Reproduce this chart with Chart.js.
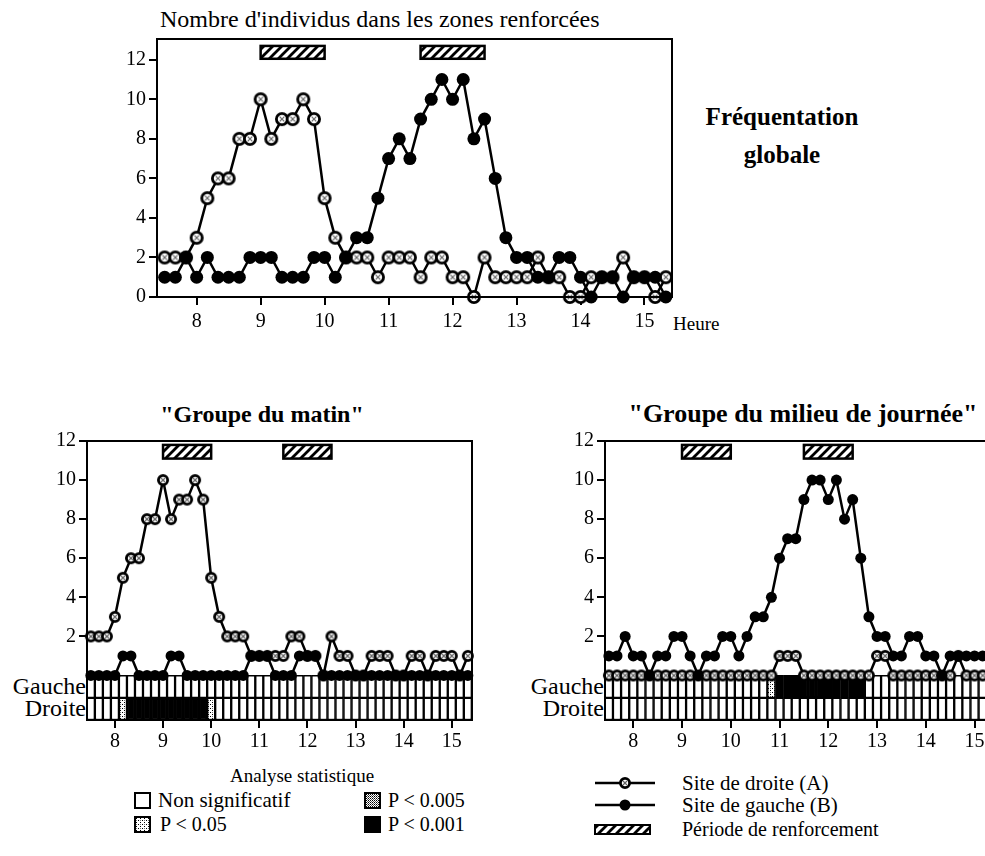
<!DOCTYPE html>
<html>
<head>
<meta charset="utf-8">
<script src="https://cdn.jsdelivr.net/npm/chart.js@4.4.1/dist/chart.umd.min.js"></script>
<style>
  html, body { margin: 0; padding: 0; width: 985px; height: 856px; overflow: hidden; background: #fff; }
  body { position: relative; font-family: 'Liberation Serif', 'Times New Roman', serif; color: #000; }
  canvas.chart, canvas.leg { position: absolute; }
  .txt { position: absolute; white-space: nowrap; font-size: 20px; line-height: 20px; }
  .bold { font-weight: bold; font-size: 25px; line-height: 25px; }
  .row { font-size: 24px; line-height: 22px; text-align: right; }
</style>
</head>
<body>
<div class="txt" style="left:160px; top:7px; font-size:24px; line-height:24px;">Nombre d'individus dans les zones renforcées</div>
<div class="txt" style="left:673px; top:314px; font-size:19px;">Heure</div>
<div class="txt bold" style="left:682px; width:200px; text-align:center; top:104px;">Fréquentation</div>
<div class="txt bold" style="left:682px; width:200px; text-align:center; top:142px;">globale</div>

<div class="txt bold" style="left:112px; width:300px; text-align:center; top:402px; font-size:24px;">"Groupe du matin"</div>
<div class="txt bold" style="left:603px; width:400px; text-align:center; top:401px; font-size:26px;">"Groupe du milieu de journée"</div>

<div class="txt row" style="right:899px; top:675px;">Gauche</div>
<div class="txt row" style="right:899px; top:697px;">Droite</div>
<div class="txt row" style="right:381px; top:675px;">Gauche</div>
<div class="txt row" style="right:381px; top:697px;">Droite</div>

<canvas id="globalChart" class="chart" width="600" height="310" style="left:100px; top:30px;"></canvas>
<canvas id="matinChart" class="chart" width="460" height="320" style="left:30px; top:432px;"></canvas>
<canvas id="midiChart" class="chart" width="465" height="320" style="left:548px; top:432px;"></canvas>

<div class="txt" style="left:230px; top:766px; font-size:19px;">Analyse statistique</div>
<canvas id="sqNs" class="leg" width="17" height="17" style="left:134px; top:792px;"></canvas>
<div class="txt" style="left:158px; top:790px; font-size:21px;">Non significatif</div>
<canvas id="sq05" class="leg" width="17" height="17" style="left:134px; top:816px;"></canvas>
<div class="txt" style="left:160px; top:814px;">P &lt; 0.05</div>
<canvas id="sq005" class="leg" width="17" height="17" style="left:364px; top:792px;"></canvas>
<div class="txt" style="left:388px; top:790px;">P &lt; 0.005</div>
<canvas id="sq001" class="leg" width="17" height="17" style="left:364px; top:816px;"></canvas>
<div class="txt" style="left:388px; top:814px;">P &lt; 0.001</div>

<canvas id="legSites" class="leg" width="80" height="72" style="left:590px; top:770px;"></canvas>
<div class="txt" style="left:682px; top:773px; font-size:21px;">Site de droite (A)</div>
<div class="txt" style="left:682px; top:795px; font-size:21px;">Site de gauche (B)</div>
<div class="txt" style="left:682px; top:819px;">Période de renforcement</div>

<script>
// Heures des relevés (toutes les 10 min)
const times = ['7:30', '7:40', '7:50', '8:00', '8:10', '8:20', '8:30', '8:40', '8:50',
    '9:00', '9:10', '9:20', '9:30', '9:40', '9:50', '10:00', '10:10', '10:20', '10:30', '10:40', '10:50',
    '11:00', '11:10', '11:20', '11:30', '11:40', '11:50', '12:00', '12:10', '12:20', '12:30', '12:40', '12:50',
    '13:00', '13:10', '13:20', '13:30', '13:40', '13:50', '14:00', '14:10', '14:20', '14:30', '14:40', '14:50',
    '15:00', '15:10', '15:20'];

const hourTicks = [8, 9, 10, 11, 12, 13, 14, 15];
const countTicks = [0, 2, 4, 6, 8, 10, 12];
const groupTicks = [2, 4, 6, 8, 10, 12];

// Périodes de renforcement (heures)
const renforcement = [[9, 10], [11.5, 12.5]];

// Fréquentation globale
const globalDroite = [2, 2, 2, 3, 5, 6, 6, 8, 8, 10, 8, 9, 9, 10, 9, 5, 3, 2, 2, 2,
    1, 2, 2, 2, 1, 2, 2, 1, 1, 0, 2, 1, 1, 1, 1, 2, 1, 1, 0, 0, 1, 1, 1, 2, 1, 1, 0, 1];
const globalGauche = [1, 1, 2, 1, 2, 1, 1, 1, 2, 2, 2, 1, 1, 1, 2, 2, 1, 2, 3, 3,
    5, 7, 8, 7, 9, 10, 11, 10, 11, 8, 9, 6, 3, 2, 2, 1, 1, 2, 2, 1, 0, 1, 1, 0, 1, 1, 1, 0];

// Groupe du matin
const matinDroite = [2, 2, 2, 3, 5, 6, 6, 8, 8, 10, 8, 9, 9, 10, 9, 5, 3, 2, 2, 2,
    1, 1, 1, 1, 1, 2, 2, 1, 1, 0, 2, 1, 1, 0, 0, 1, 1, 1, 0, 0, 1, 1, 0, 1, 1, 1, 0, 1];
const matinGauche = [0, 0, 0, 0, 1, 1, 0, 0, 0, 0, 1, 1, 0, 0, 0, 0, 0, 0, 0, 0,
    1, 1, 1, 0, 0, 0, 1, 1, 1, 0, 0, 0, 0, 0, 0, 0, 0, 0, 0, 0, 0, 0, 0, 0, 0, 0, 0, 0];

// Groupe du milieu de journée
const midiDroite = [0, 0, 0, 0, 0, 0, 0, 0, 0, 0, 0, 0, 0, 0, 0, 0, 0, 0, 0, 0,
    0, 1, 1, 1, 0, 0, 0, 0, 0, 0, 0, 0, 0, 1, 1, 0, 0, 0, 0, 0, 0, 0, 0, 1, 0, 0, 0, 0];
const midiGauche = [1, 1, 2, 1, 1, 0, 1, 1, 2, 2, 1, 0, 1, 1, 2, 2, 1, 2, 3, 3,
    4, 6, 7, 7, 9, 10, 10, 9, 10, 8, 9, 6, 3, 2, 2, 1, 1, 2, 2, 1, 1, 0, 1, 1, 1, 1, 1, 1];

// Analyse statistique : 0 = non significatif, 1 = P<0.05, 2 = P<0.005, 3 = P<0.001
const statMatinGauche = [0, 0, 0, 0, 0, 0, 0, 0, 0, 0, 0, 0, 0, 0, 0, 0, 0, 0, 0, 0,
    0, 0, 0, 0, 0, 0, 0, 0, 0, 0, 0, 0, 0, 0, 0, 0, 0, 0, 0, 0, 0, 0, 0, 0, 0, 0, 0, 0];
const statMatinDroite = [0, 0, 0, 0, 1, 3, 3, 3, 3, 3, 3, 3, 3, 3, 3, 1, 0, 0, 0, 0,
    0, 0, 0, 0, 0, 0, 0, 0, 0, 0, 0, 0, 0, 0, 0, 0, 0, 0, 0, 0, 0, 0, 0, 0, 0, 0, 0, 0];
const statMidiGauche = [0, 0, 0, 0, 0, 0, 0, 0, 0, 0, 0, 0, 0, 0, 0, 0, 0, 0, 0, 0,
    1, 3, 3, 3, 3, 3, 3, 3, 3, 3, 3, 3, 0, 0, 0, 0, 0, 0, 0, 0, 0, 0, 0, 0, 0, 0, 0, 0];
const statMidiDroite = [0, 0, 0, 0, 0, 0, 0, 0, 0, 0, 0, 0, 0, 0, 0, 0, 0, 0, 0, 0,
    0, 0, 0, 0, 0, 0, 0, 0, 0, 0, 0, 0, 0, 0, 0, 0, 0, 0, 0, 0, 0, 0, 0, 0, 0, 0, 0, 0];

const hours = times.map(t => {
    const [h, m] = t.split(':').map(Number);
    return h + m / 60;
});

Chart.defaults.font.family = "'Liberation Serif', 'Times New Roman', serif";
Chart.defaults.font.size = 20;
Chart.defaults.color = '#000';
Chart.defaults.animation = false;

// Motifs
function tile(size, draw) {
    const c = document.createElement('canvas');
    c.width = size; c.height = size;
    const g = c.getContext('2d');
    g.fillStyle = '#fff';
    g.fillRect(0, 0, size, size);
    draw(g);
    return c;
}
const hatchTile = tile(9, g => {
    g.strokeStyle = '#000';
    g.lineWidth = 2.8;
    g.beginPath();
    g.moveTo(-3, 12); g.lineTo(12, -3);
    g.moveTo(-3, 3); g.lineTo(3, -3);
    g.moveTo(6, 12); g.lineTo(12, 6);
    g.stroke();
});
const dot05Tile = tile(4, g => {
    g.fillStyle = '#000';
    g.fillRect(0, 0, 1, 1);
    g.fillRect(2, 2, 1, 1);
    g.fillStyle = '#777';
    g.fillRect(2, 0, 1, 1);
});
const dot005Tile = tile(2, g => {
    g.fillStyle = '#000';
    g.fillRect(0, 0, 1, 1);
    g.fillStyle = '#555';
    g.fillRect(1, 1, 1, 1);
});

const patCtx = document.createElement('canvas').getContext('2d');
const hatch = patCtx.createPattern(hatchTile, 'repeat');
const levelFills = ['#ffffff', patCtx.createPattern(dot05Tile, 'repeat'),
    patCtx.createPattern(dot005Tile, 'repeat'), '#000000'];

// Marqueur "site de droite" : cercle ouvert avec croix grise
function openMarker(r) {
    const s = Math.ceil(2 * r + 2);
    const c = document.createElement('canvas');
    c.width = s; c.height = s;
    const g = c.getContext('2d');
    const m = s / 2;
    g.beginPath();
    g.arc(m, m, r - 1.4, 0, Math.PI * 2);
    g.fillStyle = '#fff';
    g.fill();
    g.lineWidth = 2.8;
    g.strokeStyle = '#000';
    g.stroke();
    const k = r * 0.33;
    g.strokeStyle = '#666';
    g.lineWidth = 1.2;
    g.beginPath();
    g.moveTo(m - k, m - k); g.lineTo(m + k, m + k);
    g.moveTo(m + k, m - k); g.lineTo(m - k, m + k);
    g.stroke();
    return c;
}
const markerBig = openMarker(7);
const markerSmall = openMarker(6);

// Cadre complet autour de la zone de tracé
const framePlugin = {
    id: 'frame',
    afterDraw(chart) {
        const { ctx, chartArea: a } = chart;
        ctx.save();
        ctx.strokeStyle = '#000';
        ctx.lineWidth = 2;
        ctx.strokeRect(a.left, a.top, a.right - a.left, a.bottom - a.top);
        ctx.restore();
    }
};

// Barres hachurées des périodes de renforcement
const renfortPlugin = {
    id: 'renfort',
    beforeDatasetsDraw(chart, args, opts) {
        const { ctx, scales: { x, y } } = chart;
        ctx.save();
        opts.periods.forEach(([start, end]) => {
            const x0 = x.getPixelForValue(start);
            const x1 = x.getPixelForValue(end);
            const y0 = y.getPixelForValue(opts.band[1]);
            const y1 = y.getPixelForValue(opts.band[0]);
            ctx.fillStyle = hatch;
            ctx.fillRect(x0, y0, x1 - x0, y1 - y0);
            ctx.strokeStyle = '#000';
            ctx.lineWidth = 2.5;
            ctx.strokeRect(x0, y0, x1 - x0, y1 - y0);
        });
        ctx.restore();
    }
};

function xAxis(min, max, height, labelPad) {
    return {
        type: 'linear', min, max,
        offset: false,
        afterBuildTicks: s => { s.ticks = hourTicks.map(v => ({ value: v })); },
        afterFit: s => {
            s.height = height;
            s.paddingLeft = 0; s.paddingRight = 0;
        },
        grid: { offset: false, drawOnChartArea: false, tickLength: 8, color: '#000', lineWidth: 2 },
        border: { color: '#000', width: 2 },
        ticks: { padding: labelPad, maxRotation: 0, autoSkip: false }
    };
}

function yAxis(min, max, tickValues, width) {
    return {
        min, max,
        afterBuildTicks: s => { s.ticks = tickValues.map(v => ({ value: v })); },
        afterFit: s => {
            s.width = width;
            s.paddingTop = 0; s.paddingBottom = 0;
        },
        grid: { drawOnChartArea: false, tickLength: 8, color: '#000', lineWidth: 2 },
        border: { color: '#000', width: 2 },
        ticks: { padding: 3, autoSkip: false }
    };
}

function siteDatasets(droite, gauche, marker, radius) {
    return [{
        label: 'Site de gauche (B)',
        data: hours.map((h, i) => ({ x: h, y: gauche[i] })),
        borderColor: '#000',
        borderWidth: 2.5,
        pointStyle: 'circle',
        pointRadius: radius,
        pointBackgroundColor: '#000',
        pointBorderWidth: 0,
        clip: false,
        order: 1
    }, {
        label: 'Site de droite (A)',
        data: hours.map((h, i) => ({ x: h, y: droite[i] })),
        borderColor: '#000',
        borderWidth: 2.5,
        pointStyle: marker,
        pointRadius: radius,
        clip: false,
        order: 2
    }];
}

function statDataset(levels, band) {
    return {
        type: 'bar',
        data: hours.map(h => ({ x: h, y: band })),
        backgroundColor: ctx => levelFills[levels[ctx.dataIndex]],
        borderColor: '#000',
        borderWidth: 1.5,
        borderSkipped: false,
        grouped: false,
        barPercentage: 1,
        categoryPercentage: 1,
        order: 5
    };
}

function baseOptions(xMin, xMax, xHeight, labelPad, yMin, yMax, yTicks, yWidth, pad, band) {
    return {
        responsive: false,
        layout: { padding: pad },
        plugins: {
            legend: { display: false },
            tooltip: { enabled: false },
            renfort: { periods: renforcement, band: band }
        },
        scales: {
            x: xAxis(xMin, xMax, xHeight, labelPad),
            y: yAxis(yMin, yMax, yTicks, yWidth)
        }
    };
}

// 1. Fréquentation globale
new Chart(document.getElementById('globalChart'), {
    type: 'line',
    data: { datasets: siteDatasets(globalDroite, globalGauche, markerBig, 6.5) },
    options: baseOptions(7.38, 15.43, 43, 5, 0, 13.05, countTicks, 57,
        { top: 6, right: 28, left: 0, bottom: 0 }, [12.05, 12.7]),
    plugins: [renfortPlugin, framePlugin]
});

// Rangées statistiques sous le zéro
const rowGauche = [-1.15, 0];
const rowDroite = [-2.28, -1.15];

// 2. Groupe du matin
new Chart(document.getElementById('matinChart'), {
    type: 'line',
    data: {
        datasets: siteDatasets(matinDroite, matinGauche, markerSmall, 5.5)
            .concat([statDataset(statMatinGauche, rowGauche), statDataset(statMatinDroite, rowDroite)])
    },
    options: baseOptions(7.42, 15.42, 32, 2, -2.28, 12, groupTicks, 57,
        { top: 9, right: 18, left: 0, bottom: 0 }, [11.1, 11.8]),
    plugins: [renfortPlugin, framePlugin]
});

// 3. Groupe du milieu de journée
new Chart(document.getElementById('midiChart'), {
    type: 'line',
    data: {
        datasets: siteDatasets(midiDroite, midiGauche, markerSmall, 5.5)
            .concat([statDataset(statMidiGauche, rowGauche), statDataset(statMidiDroite, rowDroite)])
    },
    options: baseOptions(7.42, 15.42, 32, 2, -2.28, 12, groupTicks, 57,
        { top: 9, right: 18, left: 0, bottom: 0 }, [11.1, 11.8]),
    plugins: [renfortPlugin, framePlugin]
});

// Légendes
function legendSquare(id, fill) {
    const g = document.getElementById(id).getContext('2d');
    g.fillStyle = fill;
    g.fillRect(1, 1, 15, 15);
    g.strokeStyle = '#000';
    g.lineWidth = 2;
    g.strokeRect(1, 1, 15, 15);
}
legendSquare('sqNs', levelFills[0]);
legendSquare('sq05', levelFills[1]);
legendSquare('sq005', levelFills[2]);
legendSquare('sq001', levelFills[3]);

(function () {
    const g = document.getElementById('legSites').getContext('2d');
    g.strokeStyle = '#000';
    g.lineWidth = 2.5;
    g.beginPath();
    g.moveTo(5, 13); g.lineTo(65, 13);
    g.moveTo(5, 35); g.lineTo(65, 35);
    g.stroke();
    g.drawImage(markerSmall, 35 - markerSmall.width / 2, 13 - markerSmall.height / 2);
    g.fillStyle = '#000';
    g.beginPath();
    g.arc(35, 35, 5.5, 0, Math.PI * 2);
    g.fill();
    g.fillStyle = g.createPattern(hatchTile, 'repeat');
    g.fillRect(5, 55, 55, 9);
    g.lineWidth = 2;
    g.strokeRect(5, 55, 55, 9);
})();
</script>
</body>
</html>
